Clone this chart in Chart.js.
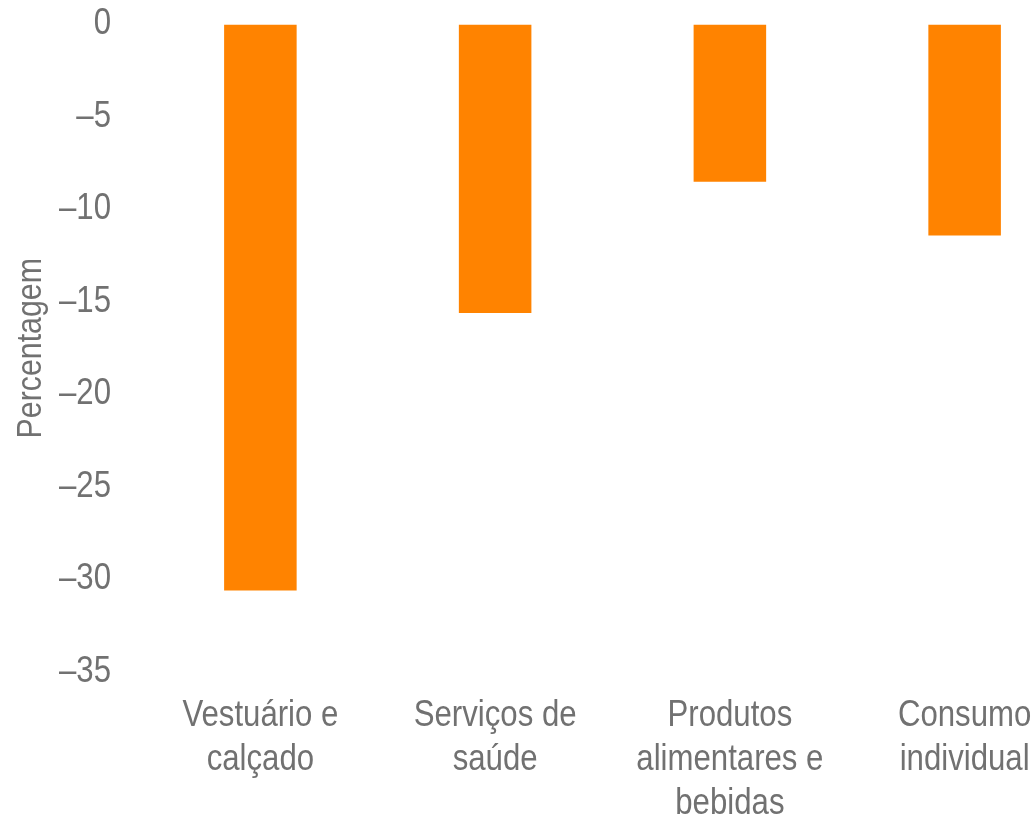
<!DOCTYPE html>
<html>
<head>
<meta charset="utf-8">
<script src="https://cdn.jsdelivr.net/npm/chart.js@4"></script>
<style>
  html, body { margin: 0; padding: 0; background: #fff; overflow: hidden; }
  #wrap { width: 1082px; height: 818px; position: relative; }
</style>
</head>
<body>
<div id="wrap"><canvas id="chart"></canvas></div>
<script>
const categories = [
    ["Vestuário e", "calçado"],
    ["Serviços de", "saúde"],
    ["Produtos", "alimentares e", "bebidas"],
    ["Consumo", "individual"]
];
const values = [-30.6, -15.6, -8.5, -11.4];
const yMin = -35;
const yMax = 0;
const yStep = 5;

const textColor = '#717171';
const fontFamily = "'Liberation Sans Narrow', 'Arial Narrow', 'Liberation Sans', Arial, sans-serif";

// no narrow face installed: squeeze the text horizontally instead
const narrow = 0.866;
const origFillText = CanvasRenderingContext2D.prototype.fillText;
CanvasRenderingContext2D.prototype.fillText = function (text, x, y, maxWidth) {
    const w = this.measureText(text).width * narrow;
    origFillText.call(this, text, x, y, maxWidth === undefined ? w : Math.min(w, maxWidth));
};

new Chart(document.getElementById('chart'), {
    type: 'bar',
    data: {
        labels: categories,
        datasets: [{
            data: values,
            backgroundColor: '#ff8300',
            borderWidth: 0,
            barPercentage: 0.309,
            categoryPercentage: 1
        }]
    },
    options: {
        responsive: true,
        maintainAspectRatio: false,
        animation: false,
        layout: { padding: { top: 24.5, left: 0, right: 0, bottom: 0 } },
        plugins: {
            legend: { display: false },
            tooltip: { enabled: false }
        },
        scales: {
            x: {
                grid: { display: false, drawTicks: false },
                border: { display: false },
                ticks: {
                    color: textColor,
                    font: { family: fontFamily, size: 36, lineHeight: 1.22 },
                    padding: 22,
                    maxRotation: 0,
                    autoSkip: false
                },
                afterFit: function (scale) {
                    scale.height = 146;
                    scale.paddingLeft = 0;
                    scale.paddingRight = 0;
                }
            },
            y: {
                min: yMin,
                max: yMax,
                grid: { display: false, drawTicks: false },
                border: { display: false },
                ticks: {
                    stepSize: yStep,
                    color: textColor,
                    font: { family: fontFamily, size: 36, lineHeight: 1.22 },
                    padding: 32,
                    callback: function (v) { return String(v).replace('-', '\u2013'); }
                },
                title: {
                    display: true,
                    text: 'Percentagem',
                    color: textColor,
                    font: { family: fontFamily, size: 35, lineHeight: 1.22 },
                    padding: { top: 10, bottom: 0 }
                },
                afterFit: function (scale) {
                    scale.width = 143;
                    scale.paddingTop = 0;
                    scale.paddingBottom = 0;
                }
            }
        }
    }
});
</script>
</body>
</html>
